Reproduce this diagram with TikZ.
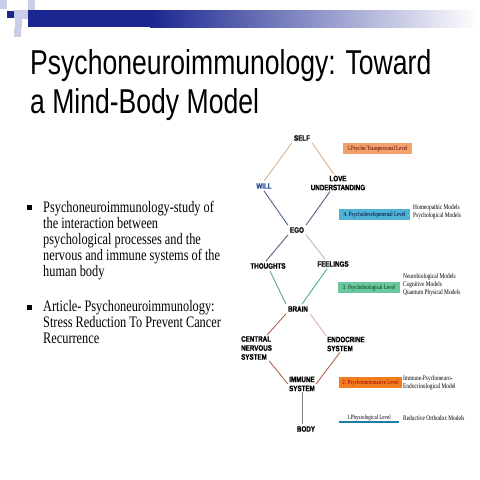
\documentclass[tikz,border=0pt]{standalone}
\usepackage{fontspec}
\setmainfont{Liberation Serif}
\newfontfamily\titlefont[FakeStretch=0.77]{Liberation Sans}
\newfontfamily\bodyfont[FakeStretch=0.77]{Liberation Serif}
\newfontfamily\nodefont[FakeStretch=0.8, BoldFeatures={FakeBold=1.2}]{Liberation Sans}
\newfontfamily\tinyfont[FakeStretch=0.77]{Liberation Serif}
\definecolor{navy}{HTML}{1B2690}
\definecolor{lav}{HTML}{C9CDE8}
\definecolor{tanline}{HTML}{D9B48A}
\definecolor{slate}{HTML}{4F6583}
\definecolor{paleslate}{HTML}{B3BAC3}
\definecolor{tealline}{HTML}{4FA89C}
\definecolor{rust}{HTML}{B2644E}
\definecolor{pink}{HTML}{D9B3AA}
\definecolor{willblue}{HTML}{2A4F9E}
\definecolor{lvlfive}{HTML}{F4A26C}
\definecolor{lvlfour}{HTML}{4FB3D6}
\definecolor{lvlthree}{HTML}{6CC6A0}
\definecolor{lvltwo}{HTML}{F47D20}
\definecolor{lvlone}{HTML}{1C7FA2}
\tikzset{
  concept/.style={font=\nodefont\bfseries\fontsize{7.8}{9}\selectfont, inner sep=2pt, align=center},
  levelbox/.style={font=\tinyfont\fontsize{6.5}{7.5}\selectfont, inner sep=0pt, minimum height=11pt},
  models/.style={font=\tinyfont\fontsize{7}{8}\selectfont, inner sep=0pt, align=left, anchor=west},
  link/.style={line width=0.9pt},
  bodytext/.style={font=\bodyfont\fontsize{16}{16}\selectfont, inner sep=0pt, align=left, anchor=north west},
  bulletbox/.style={fill=black, inner sep=0pt, minimum size=5pt}
}
\begin{document}
\begin{tikzpicture}[x=1pt,y=-1pt]
\useasboundingbox (0,0) rectangle (480,480);
% decoration
\fill[lav] (0,0) rectangle (7,9);
\fill[lav] (28,0) rectangle (35,10);
\fill[lav] (14,10) rectangle (28,19);
\fill[lav] (15,19) rectangle (22,28);
\fill[lav] (14,28) rectangle (21,37);
\fill[navy] (7,11) rectangle (14,18);
\fill[navy] (28,10) rectangle (150,27);
\shade[left color=navy, right color=white] (150,10) rectangle (478,27);
% title
\node[font=\titlefont\fontsize{34.5}{39}\selectfont, anchor=base west, inner sep=0pt] (t1) at (30,74) {Psychoneuroimmunology: Toward};
\node[font=\titlefont\fontsize{34.5}{39}\selectfont, anchor=base west, inner sep=0pt] (t2) at (30,113) {a Mind-Body Model};
% bullets
\node[bulletbox] (b1) at (29.2,207.5) {};
\node[bulletbox] (b2) at (29.2,307.5) {};
\node[bodytext] (p1) at (43,201.4) {Psychoneuroimmunology-study of\\the interaction between\\psychological processes and the\\nervous and immune systems of the\\human body};
\node[bodytext] (p2) at (43,300.0) {Article- Psychoneuroimmunology:\\Stress Reduction To Prevent Cancer\\Recurrence};
% concept nodes
\node[concept] (self) at (302,138) {SELF};
\node[concept, text=willblue] (will) at (264,186) {WILL};
\node[concept, inner sep=1pt] (love) at (338,183) {LOVE\\UNDERSTANDING};
\node[concept] (ego) at (297,230) {EGO};
\node[concept] (thoughts) at (268,266) {THOUGHTS};
\node[concept] (feelings) at (333,264) {FEELINGS};
\node[concept] (brain) at (298,309) {BRAIN};
\node[concept, align=left, anchor=west, inner sep=1pt] (cns) at (240,348) {CENTRAL\\NERVOUS\\SYSTEM};
\node[concept, align=left, anchor=west, inner sep=1pt] (endo) at (326,344) {ENDOCRINE\\SYSTEM};
\node[concept, inner sep=1pt] (immune) at (302,384) {IMMUNE\\SYSTEM};
\node[concept] (body) at (306,429) {BODY};
% connectors
\draw[link, tanline] (self.south west) -- (will.north);
\draw[link, tanline] (self.south east) -- ([xshift=-4pt]love.north);
\draw[link, slate] (will.south) -- (ego.north west);
\draw[link, slate] ([xshift=-8pt]love.south) -- (ego.north east);
\draw[link, slate] (ego.south west) -- ([xshift=-2pt]thoughts.north);
\draw[link, paleslate] (ego.south east) -- ([xshift=-8pt]feelings.north);
\draw[link, tealline] ([xshift=2pt]thoughts.south) -- (brain.north west);
\draw[link, tealline] ([xshift=-6pt]feelings.south) -- ([xshift=4pt]brain.north);
\draw[link, rust] (brain.south west) -- ([xshift=-6pt]cns.north east);
\draw[link, pink] (brain.south east) -- (endo.north west);
\draw[link, rust] ([xshift=-4pt]cns.south east) -- (immune.west);
\draw[link, rust] ([xshift=-6pt]endo.south) -- (immune.east);
\draw[link, gray] (immune.south) -- (immune.south |- body.north);
% levels
\node[levelbox, fill=lvlfive, text=black!70!red, minimum width=69pt] (l5) at (377.5,148.5) {5.Psyche/Transpersonal Level};
\node[levelbox, fill=lvlfour, text=black!80!blue, minimum width=71pt] (l4) at (374.5,214.5) {4. Psychodevelopmental Level};
\node[levelbox, fill=lvlthree, text=black!80!green, minimum width=62pt] (l3) at (369,287.5) {3. Psychobiological Level};
\node[levelbox, fill=lvltwo, text=red!60!black, minimum width=63pt] (l2) at (370.5,382.5) {2. Psychoimmunative Level};
\node[levelbox, minimum width=60pt, minimum height=8pt] (l1) at (369,417.5) {1.Physiological Level};
\draw[lvlone, line width=2pt] (l1.south west) -- (l1.south east);
% models
\node[models] (m4) at (413,212) {Homeopathic Models\\Psychological Models};
\node[models] (m3) at (403,285) {Neurobiological Models\\Cognitive Models\\Quantum Physical Models};
\node[models] (m2) at (403,383) {Immune-Psychoneuro-\\Endocrinological Model};
\node[models] (m1) at (403,418) {Reductive Orthodox Models};
\end{tikzpicture}
\end{document}
